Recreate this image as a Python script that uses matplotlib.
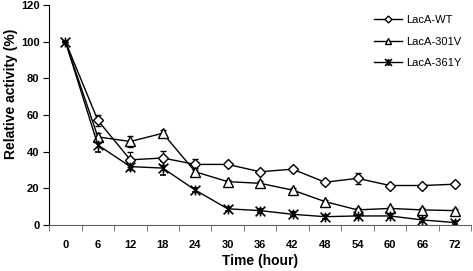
import numpy as np
import matplotlib
matplotlib.use('Agg')
from matplotlib import pyplot as plt
from matplotlib.path import Path
from matplotlib.lines import Line2D

plt.rcParams['font.family'] = ['Liberation Sans', 'DejaVu Sans']

hours = ['0', '6', '12', '18', '24', '30', '36', '42', '48', '54', '60', '66', '72']

wt = [100, 57, 35.5, 36.5, 33, 33, 29, 30.4, 23.3, 25.4, 21.5, 21.5, 22.2]
wt_err = [0, 3, 4, 4, 3, 1, 1, 1, 1, 3, 1, 1, 1]

v301 = [100, 48, 45.5, 50, 29, 23.6, 22.7, 19, 12.7, 8.2, 9, 8.2, 7.8]
v301_err = [0, 2, 3, 2, 2, 1, 1, 1, 1, 1, 1, 1, 1]

y361 = [100, 43.6, 31.8, 31, 19, 8.8, 7.8, 5.8, 4.5, 4.9, 4.9, 2.7, 1.3]
y361_err = [0, 4, 2, 4, 1, 1, 1, 1, 1, 1, 1, 1, 1]

# excel style star: an X with a vertical stroke
star = Path([(-1, -1), (1, 1), (-1, 1), (1, -1), (0, -1), (0, 1)],
            [Path.MOVETO, Path.LINETO, Path.MOVETO, Path.LINETO, Path.MOVETO, Path.LINETO])

fig = plt.figure(figsize=(4.73, 2.71), dpi=100)
ax = fig.add_axes([0.104, 0.170, 0.892, 0.812])

x = np.arange(len(hours))
kw = dict(color='black', lw=1.0, capsize=2.5, elinewidth=0.8, capthick=0.8,
          markeredgecolor='black', markerfacecolor='white')

# the first point is shared by all three, only the star shows there
ax.errorbar(x, wt, yerr=wt_err, marker='D', markersize=5, markeredgewidth=1.0,
            markevery=slice(1, None), **kw)
ax.errorbar(x, v301, yerr=v301_err, marker='^', markersize=7, markeredgewidth=1.0,
            markevery=slice(1, None), **kw)
ax.errorbar(x, y361, yerr=y361_err, marker=star, markersize=7, markeredgewidth=1.2, **kw)

ax.set_xlim(-0.5, len(hours) - 0.5)
ax.set_ylim(0, 120)
ax.set_yticks(np.arange(0, 121, 20))
ax.set_xticks(x)
ax.set_xticklabels(hours)
ax.set_xticks(np.arange(-0.5, len(hours)), minor=True)

ax.spines['top'].set_visible(False)
ax.spines['right'].set_visible(False)
ax.spines['bottom'].set_color('#606060')

ax.tick_params(axis='x', which='major', length=0, pad=11, labelsize=8)
ax.tick_params(axis='x', which='minor', length=4, direction='out', color='#606060')
ax.tick_params(axis='y', length=4, direction='out', labelsize=8, pad=3)
for lab in ax.get_xticklabels() + ax.get_yticklabels():
    lab.set_fontweight('bold')

ax.set_xlabel('Time (hour)', fontsize=10, fontweight='bold', labelpad=3)
ax.set_ylabel('Relative activity (%)', fontsize=10, fontweight='bold')
ax.yaxis.set_label_coords(-0.074, 0.595)

handles = [
    Line2D([], [], color='black', lw=1.0, marker='D', markersize=3.5,
           markerfacecolor='white', markeredgecolor='black'),
    Line2D([], [], color='black', lw=1.0, marker='^', markersize=5,
           markerfacecolor='white', markeredgecolor='black'),
    Line2D([], [], color='black', lw=1.0, marker=star, markersize=5,
           markeredgewidth=1.2),
]
ax.legend(handles, ['LacA-WT', 'LacA-301V', 'LacA-361Y'], loc='upper right',
          bbox_to_anchor=(1.0, 1.0), frameon=False, fontsize=8,
          handlelength=2.6, labelspacing=1.05, handletextpad=0.3)

fig.savefig('out.png', dpi=100)
